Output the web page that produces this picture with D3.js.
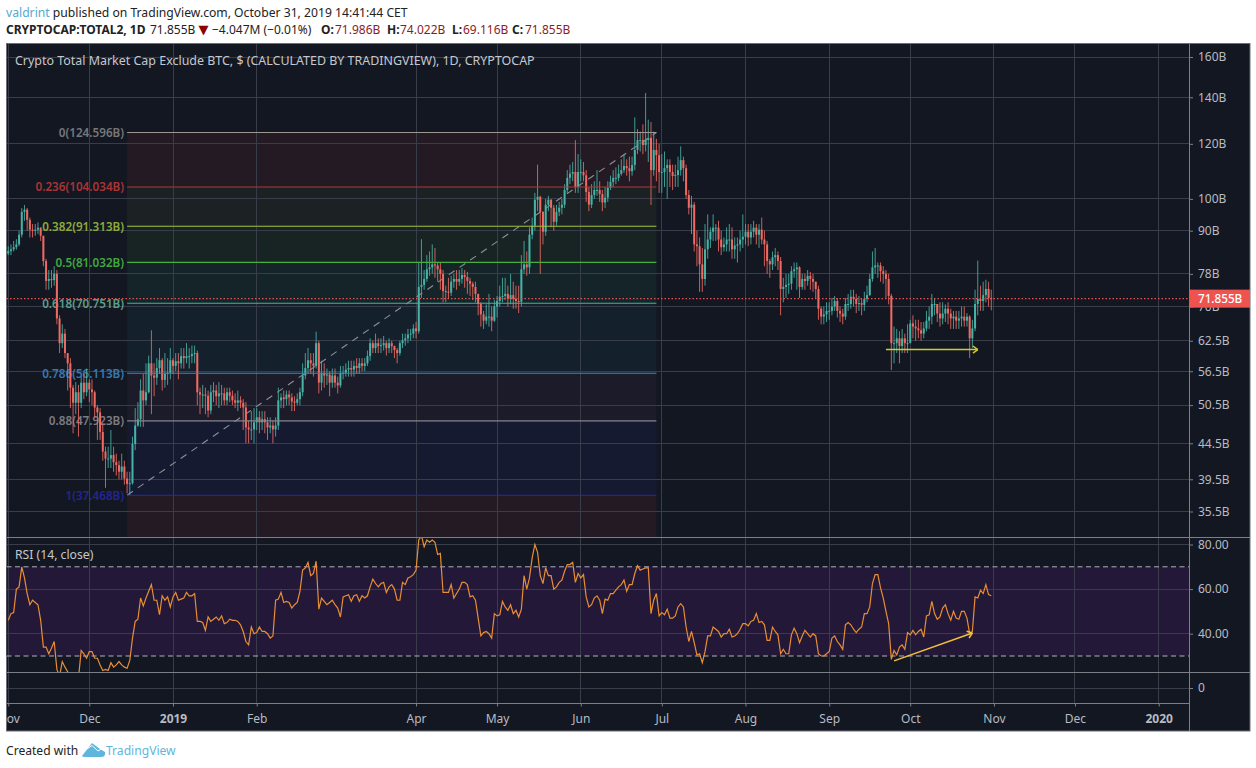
<!DOCTYPE html>
<html><head><meta charset="utf-8">
<script src="https://cdn.jsdelivr.net/npm/d3@7"></script>
<style>html,body{margin:0;padding:0;background:#fff}svg{display:block}text{font-family:"Noto Sans",sans-serif}</style>
</head><body><svg id="c" width="1256" height="768"></svg>
<script>
// daily values from 2018-11-01, in billions of dollars
const firstDay = "2018-11-01";
const firstOpen = 83.5;
const closeB = [
84.1,84.6,85.2,86,88.8,95.8,96.5,93.3,90.3,90,90.3,90.9,88.5,81.4,76.2,76.7,76.4,78,67.3,62,64,60,58,53.5,50.9,52.7,50.9,54.4,52.7,54.4,
53.2,52.7,50.1,49.3,46.2,43.3,42.3,42.3,42.8,41.8,41.4,40.5,41.2,39.6,38.9,39,44.4,47.2,48.2,53,51.3,52.7,58,55.7,55.3,57.1,58.6,54.9,56,56.2,58.6,
57.5,58.4,58,59.4,59,59.4,59.4,59.8,60,52.7,52.3,52.3,52.1,49.6,52.7,53,52,52.5,52.5,51.3,52.7,52.1,51.3,50.9,51.3,50.9,50.1,46.9,46.6,46.6,47.7,
48.5,47.7,48.2,47.7,46.9,47.2,46.6,47.2,51.3,51.8,51.5,52.3,51.8,51.1,50.9,51.5,52.7,55.7,57.1,58.6,58,57.5,62,54.4,56.2,55.7,55.9,54.4,
55.7,54.4,53.9,56.2,56.2,56.8,57.1,56.8,57.5,57.1,58,57.5,58,59.4,62,61,62,61.4,61.6,62,61,62,61.4,60.6,60,62,62.6,63,63.8,64,65.1,
64.5,74.7,75.2,76.7,79.2,79.7,80.5,80.2,79.2,78,73.7,73.5,73.3,76,76.7,76,76.7,77.7,77.2,76.2,75.5,74.7,73,70.6,68.2,66.8,67.7,67.7,66.8,70,
71.3,72.3,72.5,73,71.8,72.7,71.8,71.3,71.1,79.2,80.5,79.7,88.8,91.5,99.7,100.7,95.8,89.7,98.1,99.7,97.1,92.7,95.8,97.1,98.1,103,107.2,108.7,109.3,104,109.3,
109.3,108.1,102.3,98.1,101.3,103,103,101.6,98.8,100.4,103.7,105.8,107.2,107.2,108.7,110,111.5,110.7,109.6,111.9,117.6,121.5,121.5,119.5,121.5,122.4,110,117.6,115.6,109.3,
109.3,110.7,111.9,109.3,107.9,108.2,110,113.7,110.7,101.3,97.1,98.1,86,85.5,80.5,76.7,84.6,87.4,89.7,90.9,90.9,87.4,85.2,86,87.4,87.4,84.6,85.7,86,87.4,88.2,
89.7,88,89.7,90.9,88.8,90.3,87.4,86,81.4,80.5,82.4,83,81.4,74.2,74.7,75.2,75.5,78.7,79.2,79.7,74.7,76.7,76.2,77.5,76.7,76,74.2,69.5,67.7,68.2,69,
69,70,71.3,69,68.4,67.7,70.6,70.6,72.3,71.8,70.6,70.8,70.4,71.8,72.7,76.7,79.7,80.2,80.2,78.7,78,76.7,72.5,62,62,63,61.4,63,62,62,
66.2,65.5,65.1,64.7,64,65.1,66.8,67.7,70.6,70.6,68.4,67.3,68.4,69.5,68.4,67.3,67.7,66.8,67.3,67.7,66.8,67.7,63,65.1,70.6,71.8,71.3,72.7,74.2,71.986,71.855];
const highB = [
85.5,86,87,87.5,90,97,98,97,94,92,92,92.5,91,88.5,82,79,79,80,79,68,66,65,60,59,54,54.5,54,55.5,56,57,
55,55,53,50.5,50,47.5,44,44,46.5,44,43,42,43,42,40.5,40.5,45.5,50,51,55,56,58,59.5,64.7,58,59,61,59,60,59,61,
59,60,60,61,61,62,61,61.5,61.5,60.5,53.5,54,53.5,53,54,54.5,54,54.5,54,53.5,53.5,53.5,53,52.5,53,52,51.5,51,48,49.5,50,
50,49.5,49.5,49.5,48.5,48.5,48,48.5,53.5,52.5,53,53,53,52.5,52,52.5,53.5,58,60,61,60,60,64.4,62.5,58.5,58,57,56.5,
57,57,55.5,57.5,57.5,58,58.5,58.5,58.5,59,59,59,59,60.5,63,62.5,64,63,63,63.5,62.5,63,62.5,61.5,61,62.5,64,64,65,65,66,
66.5,81,87.5,79,83,84,86,85,81,81,79,75,77,77.5,78,79,79,79.5,79,78.5,77,76,76,73,71,69,70.5,73,70,71.5,
72.5,75,77,77,75,78,76,75,75,83,87,84,91,94,102,112,101,96,100,101,100,98,98,99,100,105,110,112,113,121.5,116,
114,113,110,104,105,106,110,106,103,104,106,108,110,111,112,114,116,114,115,115,131,126,125,128,142,130,129,125,122,120,
116,117,114,114,112,112,115,119,115,112,103,101,99,90,88,85,92,95,91,95,92,93,90,88,91,92,91,88,88,90,95,
92,92,92,93,92,92,94,90,87,82,84,85,84,82.5,77,78,78,80,81,81,80,78,78,79,78.5,78,76,75,70,70,71,
71,72,72.5,72,70,69.5,72,73,74,74,73,72.5,72,73.5,75,78,84,85,81,81,80,79,78,73,65.5,65,64.5,65,64,66,
67,68,67,67,66.5,66.5,69,70,73,72,70.5,71,71,70.5,71,69.5,69,69,69,70,70,68.5,68,67,74,81.5,75,76,76.5,76,74.022];
const lowB = [
83,83,84,84.5,85.5,88,93,90,88,88,88.5,89,87,80,74,74,74.5,75,66,60,61,59,53,50,46,49,45.5,50,51.5,52,
51,50.5,48.5,45,45,42,38.4,41,41,40.5,40,39.5,39.5,38.8,37.7,37.5,38.8,43.5,47,47,47,50.5,52.5,49,52,54,56,53,53.5,54,55,
56,56.5,55,57,57,58,57,58,58,50.5,49,50,49,48.5,49,51,50.5,50,50.5,50.5,50.5,51,50.5,50,49.5,50,46.5,44.5,44.5,45,44.5,
46.5,46,46.5,46,45,46,44.5,45.5,46.5,50,50,50.5,50.5,49.5,49.5,50.5,50.5,52,55,56,56,55.5,57,52.5,53,53.5,54,52,
53.5,53.5,52.5,53.5,55,55.5,55.5,55.5,55.5,56,56,56.5,56.5,57.5,58.5,60,60,60,60,60.5,59.5,60,60,59,58,59.5,61,61.5,62,62.5,63,
63,64,72,74,76,77.5,78,77,76,74,71,71,72,72.5,74.5,74,75,75.5,74.5,73,72.5,71.5,71,68,65.5,65,66,65.5,64.5,66.5,
67.5,70,71,71.5,70,70.5,69.5,69.5,68.5,70,78,77.5,78,87.5,90,96,78,86,88.5,96,91,90,91.5,94.5,95,97,102,105,106,102,102,
106,106,99,96,97,100,101,99,96,97,99,103,104,105,106,108,109,108,106,108,110,116,117,116,117,113,98,108,106,102,
102,104,100,104,103,104,104,108,106,100,95,89,84,80,73.5,73.5,75,82,85,87,87,84,83,84,84,84,82,82,81,84,85,
86,85.5,86,88,86,85,86,80,78,77,79,80,79,68,71,72,73,74,77,74,72,74,74,75,74,73.5,72,67,66,66,66.5,
67,68,69,67.5,66.5,66,67,69,69.5,70,68.5,69,68,69,71,72.5,76,78,77,76,75.5,72,70.5,56.7,58,60,58,60,60,60,
64,63,62.5,63,62.5,63,64.5,65,66,68,66.5,65.5,66,66.5,66,65,65,65,65,65.5,65.5,65.5,59,61,64.5,68,69,69,71,70,69.116];
const rsi14 = [
46,49,49.5,60,61,70,65,58,53,55,54,53,46,34,34,31,33.5,36.5,24,21,27.5,25,23,18,16,15,20,32.5,31,29,
32,32,29,29,26,23.5,24,23.5,27,25,26,27.5,26,25,24.5,28,38,45.5,46.5,56,52.5,56,59,62,55,55,48.5,57,55,56.5,52,
56.5,58.5,55,55.5,56,58.5,57,57,58,45.5,45.5,45,41.5,47.5,45.5,46.5,47.5,46,48,44.5,45,46.5,46,46,45.5,44,41,36.5,35,43,40,
40.5,43,41,41,40,38,39,55,55.5,58.5,54,54.5,54,51.5,53,54,59,68.5,69.5,72,66,67,72.5,51,56,54.5,53,54,
55,53,51.5,47.5,56.5,57,57.5,54.5,57,57.5,54.5,57,56,57,61,64.5,62.5,61,62.5,63,58.5,61,62,60,55,55,63,62,65,65.5,66.5,
68.5,82,84,79,82,81,82,81,75.5,76,58.5,58.5,58.5,62,56,58,60,63,63,62,56.5,57,55,47,39,40.5,41,40,38,49,
48,48.5,54.5,52,50.5,53,49,50.5,47.5,51,66,60,65,74,80,76.5,66,62.5,69.5,66,66,60,61,63,64,68,71,71,72,63,67,
65,66.5,56.5,52,53,56,57,55,49,55.5,55,58,58,59.5,61,62,64,59,62,62,67,70.5,68.5,69,69.5,69.5,49,55,58,48,
49.5,48.5,51,47,47,48,52,53.5,52,43,36.5,41,36,30.5,31,27,32,39,39,43,42,41,38.5,40,40,42,38.5,39,40,42,44.5,
44.5,43.5,45.5,46,49,45,45.5,44,37,37,43,41,39.5,31,33,31,31,39.5,42.5,40,36,39,41.5,40,38.5,40,39,31,30,30,31,
32,38,39,36.5,35,33,44,45,44,42,40.5,42,43,49,49,52,62.5,66.5,66.5,60.5,56,50,44.5,28.5,32.5,30.5,34,35,33,40.5,
39.5,41.5,39.5,41,42,38.5,48,48.5,54.5,49,46.5,47.5,51.5,53,49,46,50,47,46.5,50,50,47,40,41,56.5,56,59.5,58,62,57.5,57];

const priceTicks = [160,140,120,100,90,78,70,62.5,56.5,50.5,44.5,39.5,35.5];
const priceTickLabels = ["160B","140B","120B","100B","90B","78B","70B","62.5B","56.5B","50.5B","44.5B","39.5B","35.5B"];
const rsiTicks = [80,60,40];
const lowerTicks = [0];
const monthTicks = ["2018-11-01","2018-12-01","2019-01-01","2019-02-01","2019-04-01","2019-05-01","2019-06-01","2019-07-01","2019-08-01","2019-09-01","2019-10-01","2019-11-01","2019-12-01","2020-01-01"];
const monthLabels = ["Nov","Dec","2019","Feb","Apr","May","Jun","Jul","Aug","Sep","Oct","Nov","Dec","2020"];
const fibLevels = ["0","0.236","0.382","0.5","0.618","0.786","0.88","1"];
const fibPrices = [124.596,104.034,91.313,81.032,70.751,56.113,47.923,37.468];
const fibLine = ["#9d9794","#a93a3a","#a4c23d","#46b03f","#3db79f","#3f87bd","#85858b","#2b2ba3"];
const fibText = ["#77767a","#a83434","#8cab3b","#3fa83d","#5d9f8a","#3a78ae","#7c7c82","#25258f"];
const fibFill = ["#241a24","#1c2224","#182424","#152429","#14212d","#1b1b29","#151a31","#241a24"];
const fibStart = "2018-12-15", fibEnd = "2019-06-29";
const lastPrice = 71.855;
const rsiUpper = 70, rsiLower = 30;
const priceArrow = [["2019-09-22",60.7],["2019-10-26",60.7]];
const rsiArrow = [["2019-09-25",27.8],["2019-10-24",40.3]];

const P = {l:6.5,t:43.5,r:1250,b:731,axisX:1189,axisY:703.5,pane1:537.5,pane2:672.5};
const svg = d3.select("#c");
const parse = d3.utcParse("%Y-%m-%d");
const x = d3.scaleUtc().domain([parse("2019-01-01"),parse("2020-01-01")]).range([173,1158.7]);
const y = d3.scaleLog().domain([160,35.5]).range([57,511.5]);
const yR = d3.scaleLinear().domain([80,30]).range([544.5,656]);
const yL = d3.scaleLinear().domain([0,1]).range([688,680]);
const dayX = i => x(d3.utcDay.offset(parse(firstDay),i));

svg.append("rect").attr("x",P.l).attr("y",P.t).attr("width",P.r-P.l).attr("height",P.b-P.t).attr("fill","#131722").attr("stroke","#6d6f76").attr("stroke-width",1);
const defs = svg.append("defs");
defs.append("clipPath").attr("id","pp").append("rect").attr("x",P.l).attr("y",P.t).attr("width",P.axisX-P.l).attr("height",P.pane1-P.t);
defs.append("clipPath").attr("id","rp").append("rect").attr("x",P.l).attr("y",P.pane1).attr("width",P.axisX-P.l).attr("height",P.pane2-P.pane1);
defs.append("clipPath").attr("id","tp").append("rect").attr("x",P.l).attr("y",P.axisY).attr("width",P.axisX-P.l).attr("height",P.b-P.axisY);

const GRID="#393d49", BORDER="#7d7f86", LABEL="#b8bbc2";
// fib fills
const gFill = svg.append("g").attr("clip-path","url(#pp)");
const x0=x(parse(fibStart)), x1=x(parse(fibEnd));
fibFill.forEach((c,i)=>{
  const top=y(fibPrices[i]), bot=i<7?y(fibPrices[i+1]):P.pane1;
  gFill.append("rect").attr("x",x0).attr("y",top).attr("width",x1-x0).attr("height",bot-top).attr("fill",c);
});
// RSI band
svg.append("rect").attr("x",P.l).attr("width",P.axisX-P.l).attr("y",yR(rsiUpper)).attr("height",yR(rsiLower)-yR(rsiUpper)).attr("fill","#231838");
// grid
const grid = svg.append("g").attr("stroke",GRID).attr("stroke-width",1).attr("shape-rendering","crispEdges");
monthTicks.forEach(m=>{const X=x(parse(m));grid.append("line").attr("x1",X).attr("x2",X).attr("y1",P.t).attr("y2",P.axisY);});
priceTicks.forEach(v=>grid.append("line").attr("x1",P.l).attr("x2",P.axisX).attr("y1",y(v)).attr("y2",y(v)));
rsiTicks.forEach(v=>grid.append("line").attr("x1",P.l).attr("x2",P.axisX).attr("y1",yR(v)).attr("y2",yR(v)));
lowerTicks.forEach(v=>grid.append("line").attr("x1",P.l).attr("x2",P.axisX).attr("y1",yL(v)).attr("y2",yL(v)));
// fib labels
const gFibT = svg.append("g").attr("clip-path","url(#pp)");
fibLevels.forEach((l,i)=>{
  gFibT.append("text").attr("x",x0-3).attr("y",y(fibPrices[i])+4.5).attr("text-anchor","end").attr("font-size",11.7).attr("font-weight",600)
    .attr("fill",fibText[i]).text(l+"("+fibPrices[i].toFixed(3)+"B)");
});
// trend line
const gTop = svg.append("g").attr("clip-path","url(#pp)");
gTop.append("line").attr("x1",x0).attr("y1",y(fibPrices[7])).attr("x2",x1).attr("y2",y(fibPrices[0])).attr("stroke","#8d8f96").attr("stroke-dasharray","7 6").attr("stroke-width",1.1);
// candles
const UP="#47b3a6", DOWN="#ee6a62";
const candles = closeB.map((c,i)=>({i,c,o:i?closeB[i-1]:firstOpen,h:highB[i],l:lowB[i]}));
const gC = svg.append("g").attr("clip-path","url(#pp)");
gC.selectAll("line").data(candles).join("line")
  .attr("x1",d=>dayX(d.i)).attr("x2",d=>dayX(d.i)).attr("y1",d=>y(d.h)).attr("y2",d=>y(d.l))
  .attr("stroke",d=>d.c>=d.o?UP:DOWN).attr("stroke-width",1).attr("stroke-opacity",.85);
gC.selectAll("rect").data(candles).join("rect")
  .attr("x",d=>dayX(d.i)-1).attr("width",2)
  .attr("y",d=>Math.min(y(d.o),y(d.c))).attr("height",d=>Math.max(1,Math.abs(y(d.o)-y(d.c))))
  .attr("fill",d=>d.c>=d.o?UP:DOWN);
// fib lines
fibLine.forEach((c,i)=>gC.append("line").attr("x1",x0).attr("x2",x1).attr("y1",y(fibPrices[i])).attr("y2",y(fibPrices[i])).attr("stroke",c).attr("stroke-width",1.1));
// last price dotted
svg.append("line").attr("x1",P.l).attr("x2",P.axisX).attr("y1",y(lastPrice)).attr("y2",y(lastPrice)).attr("stroke","#e9534f").attr("stroke-dasharray","1.5 2").attr("stroke-width",1.2);
// price arrow
function arrow(g,pts,sy,col){
  const A=[x(parse(pts[0][0])),sy(pts[0][1])],B=[x(parse(pts[1][0])),sy(pts[1][1])];
  g.append("line").attr("x1",A[0]).attr("y1",A[1]).attr("x2",B[0]).attr("y2",B[1]).attr("stroke",col).attr("stroke-width",1.5);
  const a=Math.atan2(B[1]-A[1],B[0]-A[0]);
  [2.5,-2.5].forEach(t=>g.append("line").attr("x1",B[0]).attr("y1",B[1]).attr("x2",B[0]+6*Math.cos(a+t)).attr("y2",B[1]+6*Math.sin(a+t)).attr("stroke",col).attr("stroke-width",1.5));
}
arrow(svg.append("g"),priceArrow,y,"#c9ce2c");
// RSI
const gR = svg.append("g").attr("clip-path","url(#rp)");
[rsiUpper,rsiLower].forEach(v=>gR.append("line").attr("x1",P.l).attr("x2",P.axisX).attr("y1",yR(v)).attr("y2",yR(v)).attr("stroke","#b4aec4").attr("stroke-dasharray","5 3.5").attr("stroke-width",1));
gR.append("path").attr("d",d3.line().x((d,i)=>dayX(i)).y(d=>yR(d))(rsi14)).attr("fill","none").attr("stroke","#e88e34").attr("stroke-width",1.2);
arrow(svg.append("g"),rsiArrow,yR,"#f2c13a");
// separators
const sep = svg.append("g").attr("stroke",BORDER).attr("shape-rendering","crispEdges");
[P.pane1,P.pane2].forEach(v=>sep.append("line").attr("x1",P.l).attr("x2",P.axisX).attr("y1",v).attr("y2",v));
sep.append("line").attr("x1",P.l).attr("x2",P.axisX).attr("y1",P.axisY).attr("y2",P.axisY);
sep.append("line").attr("x1",P.axisX).attr("x2",P.axisX).attr("y1",P.t).attr("y2",P.b);
sep.append("line").attr("x1",P.axisX).attr("x2",P.r).attr("y1",P.pane1).attr("y2",P.pane1);
sep.append("line").attr("x1",P.axisX).attr("x2",P.r).attr("y1",P.pane2).attr("y2",P.pane2);

// axes
function styleAxis(g){
  g.select(".domain").remove();
  g.selectAll("line").attr("stroke",BORDER);
  g.selectAll("text").attr("fill",LABEL).attr("font-size",12).attr("font-family",'"Noto Sans",sans-serif');
}
const ax1=svg.append("g").attr("transform",`translate(${P.axisX},0)`).call(d3.axisRight(y).tickValues(priceTicks).tickFormat((d,i)=>priceTickLabels[i]).tickSize(4).tickPadding(5));
styleAxis(ax1);
const ax2=svg.append("g").attr("transform",`translate(${P.axisX},0)`).call(d3.axisRight(yR).tickValues(rsiTicks).tickFormat(d3.format(".2f")).tickSize(4).tickPadding(5));
styleAxis(ax2);
const ax3=svg.append("g").attr("transform",`translate(${P.axisX},0)`).call(d3.axisRight(yL).tickValues(lowerTicks).tickFormat(d3.format("d")).tickSize(4).tickPadding(5));
styleAxis(ax3);
const ax4=svg.append("g").attr("clip-path","url(#tp)").append("g").attr("transform",`translate(0,${P.axisY})`)
  .call(d3.axisBottom(x).tickValues(monthTicks.map(parse)).tickFormat((d,i)=>monthLabels[i]).tickSize(3).tickPadding(8));
styleAxis(ax4);
ax4.selectAll("text").attr("font-weight",(d,i)=>/^20/.test(monthLabels[i])?700:400);

// last price tag
const tagY=y(lastPrice);
svg.append("rect").attr("x",P.axisX).attr("y",tagY-9).attr("width",P.r-P.axisX).attr("height",18).attr("fill","#ef5350");
svg.append("text").attr("x",1198).attr("y",tagY+4.5).attr("fill","#fff").attr("font-size",11.7).attr("font-weight",500).text("71.855B");

// titles
svg.append("text").attr("x",15).attr("y",65).attr("fill","#c5c8cf").attr("font-size",12.45).text("Crypto Total Market Cap Exclude BTC, $ (CALCULATED BY TRADINGVIEW), 1D, CRYPTOCAP");
svg.append("text").attr("x",15).attr("y",559).attr("fill","#c5c8cf").attr("font-size",12.2).text("RSI (14, close)");

// header
const h1=svg.append("text").attr("x",6).attr("y",17).attr("font-size",12.17).attr("fill","#222");
h1.append("tspan").attr("fill","#53a9cf").text("valdrint");
h1.append("tspan").text(" published on TradingView.com, October 31, 2019 14:41:44 CET");
const RED="#8e1c1c", INK="#222";
const h2=svg.append("g").attr("font-size",12);
const put=(X,t,col,w,extra)=>{const e=h2.append("text").attr("x",X).attr("y",34).attr("fill",col).attr("font-weight",w).text(t);return e;};
put(6,"CRYPTOCAP:TOTAL2, 1D",INK,700);
put(150,"71.855B",INK,400);
put(198.5,"▼","#8b0000",400).attr("font-size",13).style("font-family",'"DejaVu Sans"');
put(212,"−4.047M (−0.01%)",INK,400);
[[321,335,"O:","71.986B"],[387,400,"H:","74.022B"],[452,463,"L:","69.116B"],[512,525,"C:","71.855B"]].forEach(p=>{
  put(p[0],p[2],INK,700);
  put(p[1],p[3],RED,400);
});
// footer
svg.append("text").attr("x",6).attr("y",755).attr("font-size",12.1).attr("fill","#222").text("Created with");
svg.append("path").attr("d","M82 756 L92 743 L100 749 L105 752 Q106 757 101 757 L87 757 Q82 757 82 756 Z").attr("fill","#5fb6dc");
svg.append("path").attr("d","M87 749 L92 745.5 L98 751 L103 748").attr("fill","none").attr("stroke","#fff").attr("stroke-width",1);
svg.append("text").attr("x",106).attr("y",755).attr("font-size",12.1).attr("fill","#5fb6dc").text("TradingView");
</script></body></html>
